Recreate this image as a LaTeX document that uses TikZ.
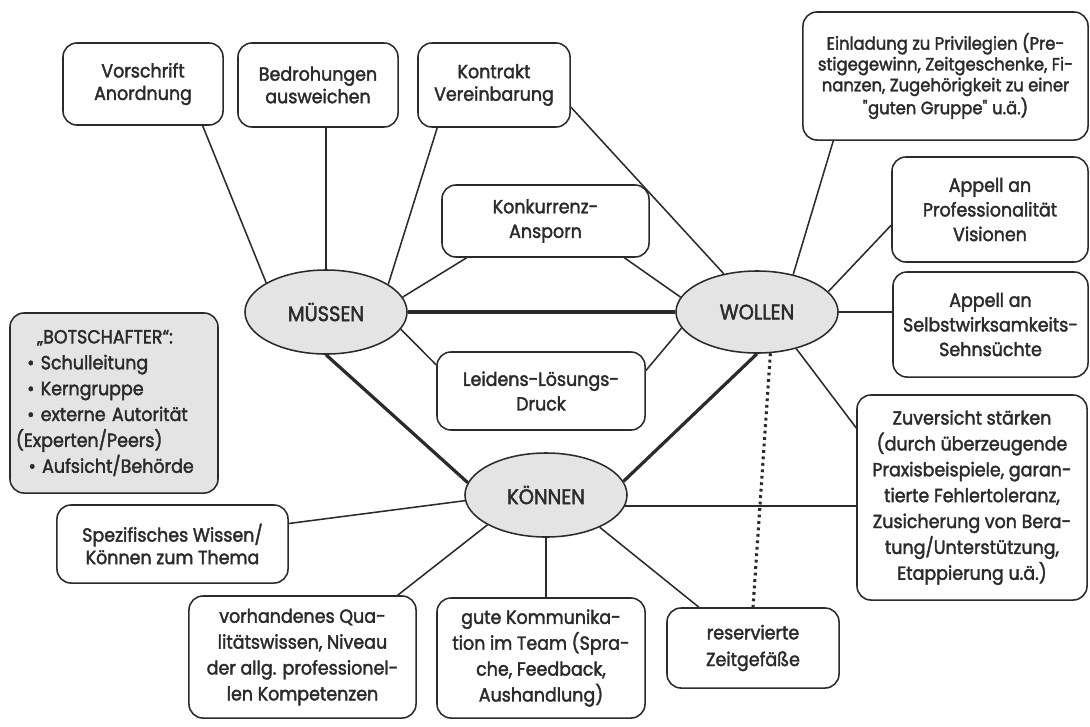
\documentclass[tikz,border=0pt]{standalone}
\usepackage{fontspec}
\setmainfont{Poppins}[FakeStretch=0.92,FakeBold=2]
\usetikzlibrary{positioning,calc,shapes.geometric}

\definecolor{ink}{HTML}{2B2B2B}
\definecolor{ovalgray}{HTML}{E4E4E4}

\begin{document}
\begin{tikzpicture}[x=0.025cm,y=-0.025cm,
    box/.style={draw=ink,line width=1.1pt,rounded corners=0.35cm,fill=white,align=center,text=ink,inner sep=2pt,font=\fontsize{13.5}{17.5}\selectfont},
    oval/.style={ellipse,draw=ink,line width=1.1pt,fill=ovalgray,text=ink,inner sep=1pt,minimum width=4.05cm,minimum height=2.1cm,font=\fontsize{15}{15}\selectfont},
    conn/.style={draw=ink,line width=1.1pt},
    heavyconn/.style={draw=ink,line width=2.3pt}]
    \useasboundingbox (0,0) rectangle (1090,726);

    % the three centres
    \node[oval] (mussen) at (326,312) {MÜSSEN};
    \node[oval,minimum height=2.05cm] (wollen) at (757,312) {WOLLEN};
    \node[oval] (koennen) at (546,495) {KÖNNEN};

    % top row
    \node[box,minimum width=4cm,minimum height=2.05cm,font=\fontsize{13.5}{16}\selectfont] (vorschrift) at (143,84) {Vorschrift\\Anordnung};
    \node[box,minimum width=4cm,minimum height=2.1cm,font=\fontsize{13.5}{16}\selectfont] (bedrohung) at (318,85) {Bedrohungen\\ausweichen};
    \node[box,minimum width=3.8cm,minimum height=2.1cm,font=\fontsize{13.5}{16}\selectfont] (kontrakt) at (494,85) {Kontrakt\\Vereinbarung};

    % middle
    \node[box,minimum width=5.175cm,minimum height=1.8cm] (konkurrenz) at (545.5,221) {Konkurrenz-\\Ansporn};
    \node[box,minimum width=5.2cm,minimum height=1.95cm] (leidens) at (541,391) {Leidens-Lösungs-\\Druck};

    % right column
    \node[box,minimum width=7.125cm,minimum height=3.2cm,font=\fontsize{12.7}{14.8}\selectfont] (einladung) at (945.5,76) {Einladung zu Privilegien (Pre-\\stigegewinn, Zeitgeschenke, Fi-\\nanzen, Zugehörigkeit zu einer\\\textquotedbl guten Gruppe\textquotedbl{} u.ä.)};
    \node[box,minimum width=4.9cm,minimum height=2.625cm] (appellp) at (990,209.5) {Appell an\\Professionalität\\Visionen};
    \node[box,minimum width=4.875cm,minimum height=2.625cm] (appells) at (990.5,324.5) {Appell an\\Selbstwirksamkeits-\\Sehnsüchte};
    \node[box,minimum width=5.75cm,minimum height=5.125cm,font=\fontsize{13.5}{18.4}\selectfont] (zuversicht) at (972,497.5) {Zuversicht stärken\\(durch überzeugende\\Praxisbeispiele, garan-\\tierte Fehlertoleranz,\\Zusicherung von Bera-\\tung/Unterstützung,\\Etappierung u.ä.)};

    % left and bottom
    \node[box,fill=ovalgray,align=left,text width=4.9cm,inner xsep=4.25pt,minimum height=4.5cm,font=\fontsize{13.5}{18.4}\selectfont] (botschafter) at (114,403) {\hspace*{15pt}„BOTSCHAFTER“:\\\hspace*{8pt}• Schulleitung\\\hspace*{8pt}• Kerngruppe\\\hspace*{8pt}• externe Autorität\\(Experten/Peers)\\\hspace*{9pt}• Aufsicht/Behörde};
    \node[box,minimum width=5.775cm,minimum height=1.95cm,font=\fontsize{13.5}{16}\selectfont] (spezifisch) at (172.5,544) {Spezifisches Wissen/\\Können zum Thema};
    \node[box,minimum width=5.675cm,minimum height=3.05cm,font=\fontsize{13.5}{18.4}\selectfont] (vorhanden) at (302.5,657) {vorhandenes Qua-\\litätswissen, Niveau\\der allg. professionel-\\len Kompetenzen};
    \node[box,minimum width=5.2cm,minimum height=3cm,font=\fontsize{13.5}{18.4}\selectfont] (gute) at (541,658) {gute Kommunika-\\tion im Team (Spra-\\che, Feedback,\\Aushandlung)};
    \node[box,minimum width=4.3cm,minimum height=2cm,font=\fontsize{13.5}{19}\selectfont] (reserviert) at (753,648) {reservierte\\Zeitgefäße};

    % connectors
    \draw[conn] (vorschrift.325) -- (mussen.154);
    \draw[conn] (mussen.north) -- (mussen.north |- bedrohung.south);
    \draw[conn] (kontrakt.217) -- (mussen.24);
    \draw[conn] (kontrakt.344) -- (wollen.131);
    \draw[conn] (konkurrenz.205) -- (mussen.11);
    \draw[conn] (konkurrenz.335) -- (wollen.169);
    \draw[conn] (leidens.166) -- (mussen.347);
    \draw[conn] (leidens.11) -- (wollen.192);
    \draw[heavyconn] (mussen.east) -- (wollen.west);
    \draw[heavyconn] (mussen.south) -- (koennen.171);
    \draw[heavyconn] (wollen.south) -- (koennen.10);

    \draw[conn] (einladung.210) -- (wollen.46);
    \draw[conn] (appellp.189) -- (wollen.16);
    \draw[conn] (wollen.east) -- (wollen.east -| appells.west);
    \draw[conn] (zuversicht.149) -- (wollen.317);
    \draw[draw=ink,line width=2.2pt,dash pattern=on 2pt off 2.6pt] (wollen.288) -- (reserviert.north);

    \draw[conn] (koennen.352) -- (koennen.352 -| zuversicht.west);
    \draw[conn] (spezifisch.10) -- (koennen.184);
    \draw[conn] (vorhanden.33) -- (koennen.207);
    \draw[conn] (koennen.south) -- (koennen.south |- gute.north);
    \draw[conn] (koennen.329) -- (reserviert.143);
\end{tikzpicture}
\end{document}
